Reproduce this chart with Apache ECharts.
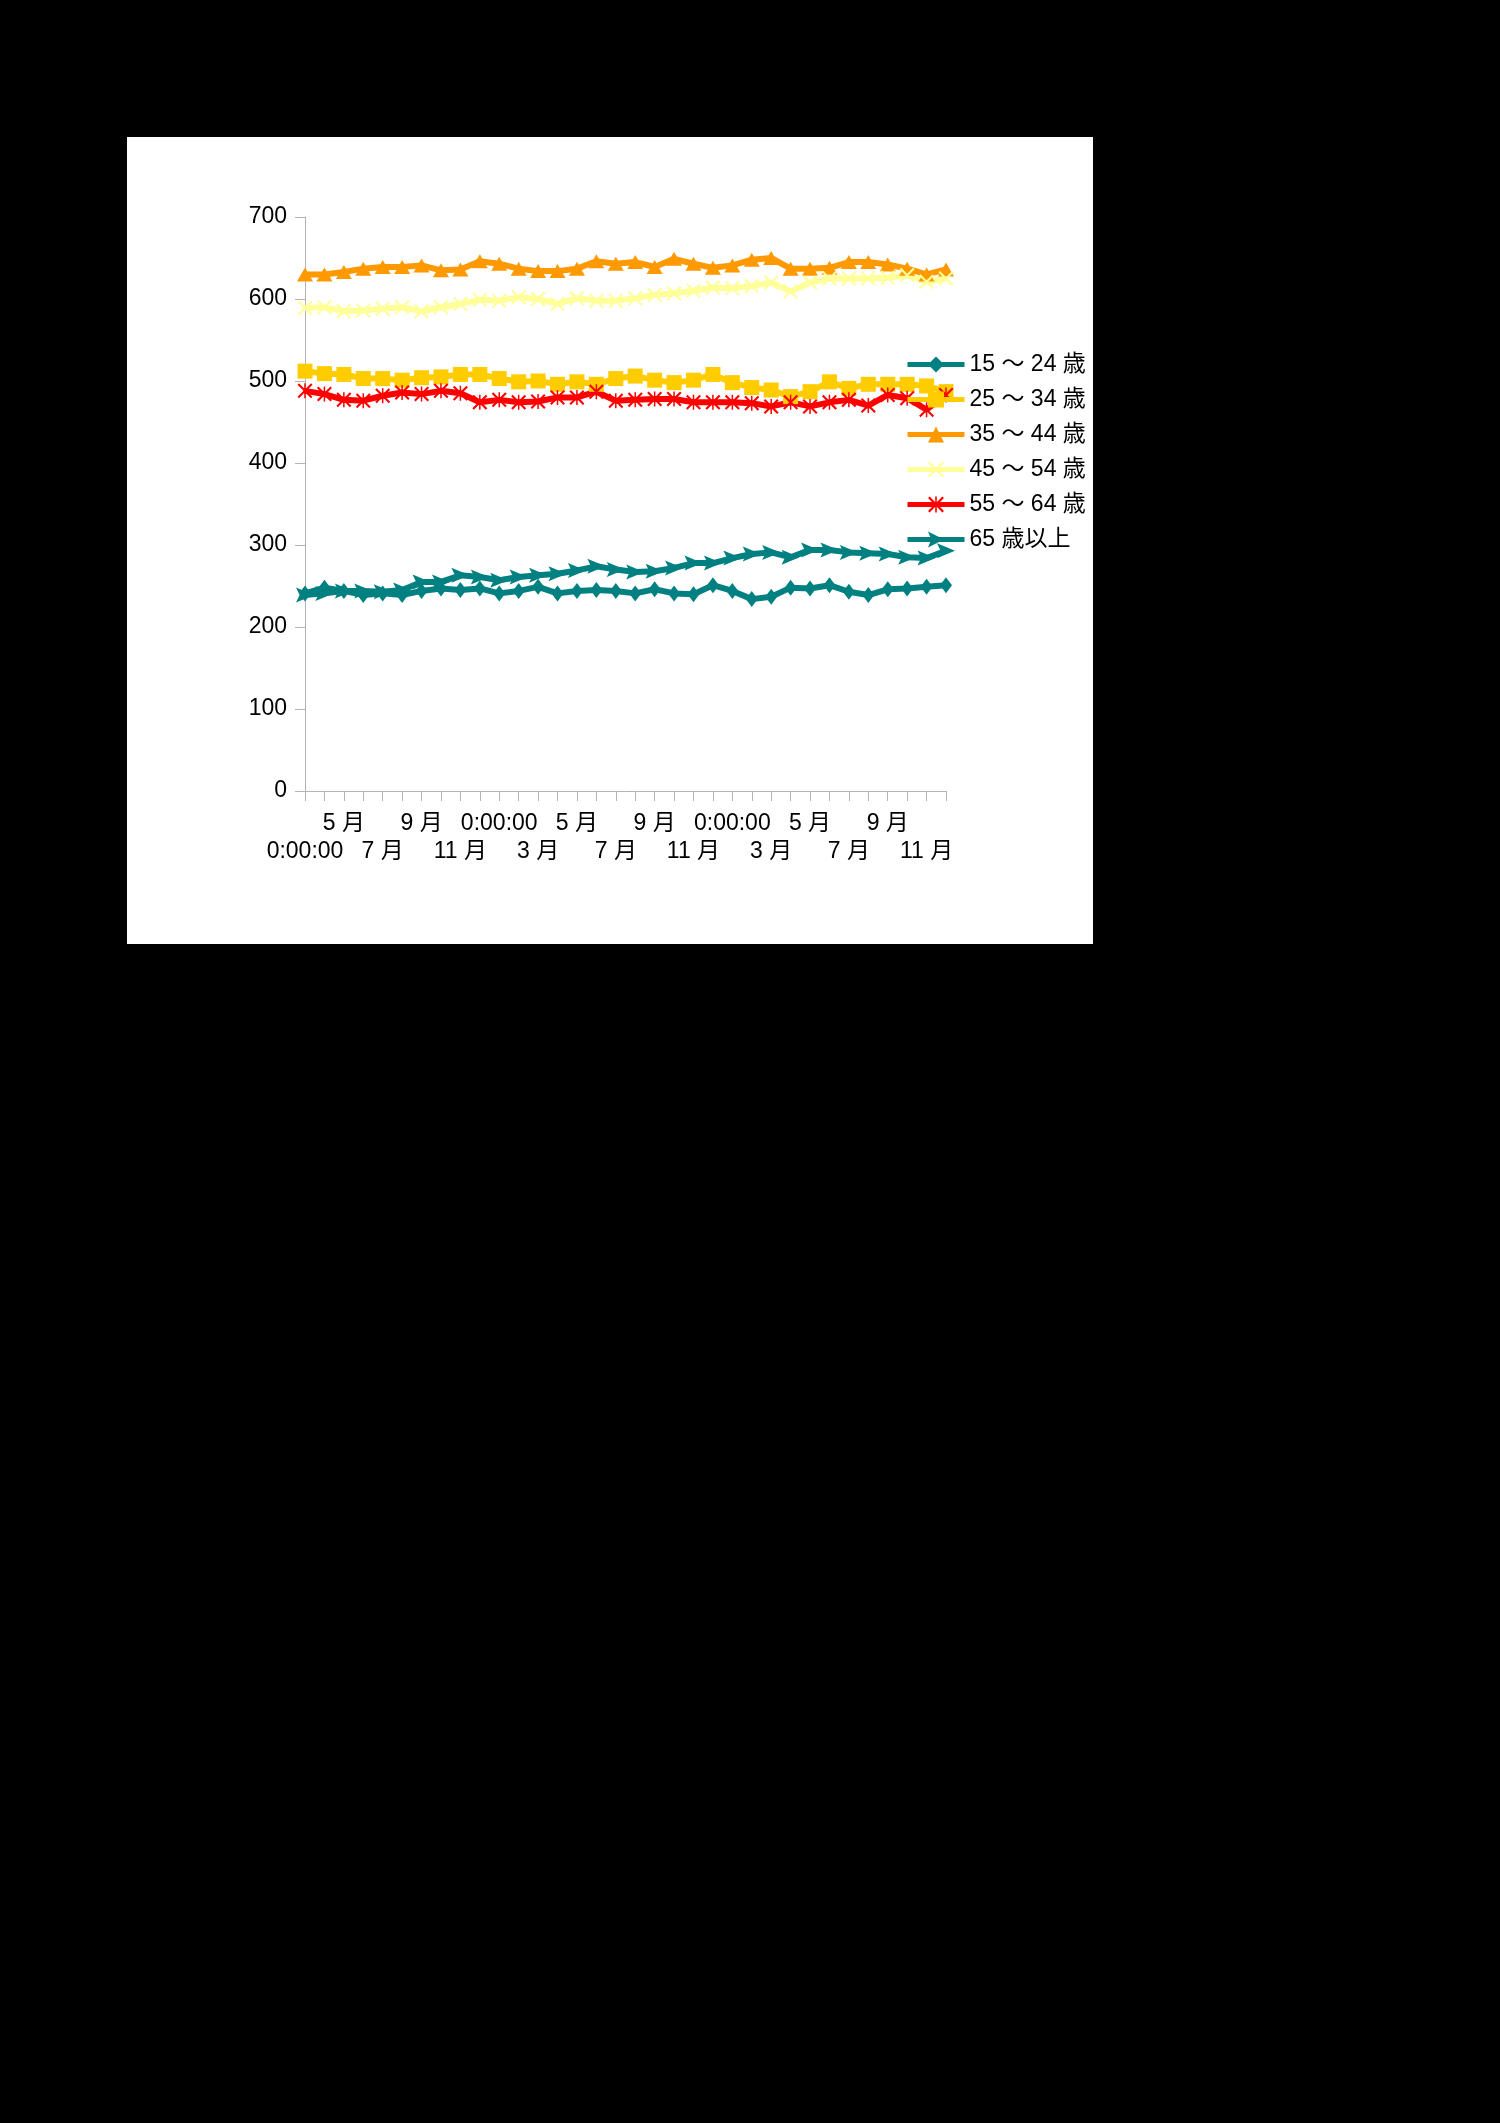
<!DOCTYPE html>
<html>
<head>
<meta charset="utf-8">
<script src="https://cdn.jsdelivr.net/npm/echarts@6/dist/echarts.min.js"></script>
<style>
    html, body { margin: 0; padding: 0; background: #000; width: 1500px; height: 2123px; }
    #chart { position: absolute; left: 127px; top: 137px; width: 966px; height: 807px; background: #fff; }
</style>
</head>
<body>
<div id="chart"></div>
<script>
// one entry per month; the first label and each January show as "0:00:00"
var categories = ['0:00:00','4 月','5 月','6 月','7 月','8 月','9 月','10 月','11 月','12 月',
    '0:00:00','2 月','3 月','4 月','5 月','6 月','7 月','8 月','9 月','10 月','11 月','12 月',
    '0:00:00','2 月','3 月','4 月','5 月','6 月','7 月','8 月','9 月','10 月','11 月','12 月'];
var seriesNames = ['15 ～ 24 歳','25 ～ 34 歳','35 ～ 44 歳','45 ～ 54 歳','55 ～ 64 歳','65 歳以上'];
var yTicks = [0, 100, 200, 300, 400, 500, 600, 700];

var age15_24 = [241,248,244,239,241,239,244,247,245,247,241,244,249,241,244,245,244,
    241,246,241,240,251,244,234,237,248,247,251,243,239,246,247,249,251];
var age25_34 = [512,509,508,503,503,501,504,505,508,508,503,499,500,496,499,496,503,
    506,501,498,501,508,498,492,489,481,487,499,491,496,496,496,494,487];
var age35_44 = [630,630,633,637,639,639,641,635,636,646,643,637,634,634,637,646,643,
    645,639,649,643,638,641,648,650,637,637,638,645,645,642,637,630,636];
var age45_54 = [589,590,585,586,588,590,585,590,594,599,598,602,600,594,601,598,598,
    601,605,607,610,614,613,616,620,609,620,625,625,625,626,629,621,625];
var age55_64 = [488,484,477,476,482,486,484,488,485,474,477,474,475,480,480,487,476,
    477,478,478,474,474,474,473,469,474,469,474,477,470,483,479,465,483];
var age65up = [239,241,244,244,243,245,255,255,263,261,257,261,263,265,269,274,270,
    267,268,272,278,278,284,289,291,285,294,294,291,290,289,285,284,293];

var crossPath = 'path://M2,0 L10,8 L18,0 L20,2 L12,10 L20,18 L18,20 L10,12 L2,20 L0,18 L8,10 L0,2 Z';
var starPath = 'path://M2,0 L10,8 L18,0 L20,2 L12,10 L20,18 L18,20 L10,12 L2,20 L0,18 L8,10 L0,2 Z M9,0 L11,0 L11,20 L9,20 Z';
var arrowPath = 'path://M0,0 L20,8 L0,16 L4,8 Z';

var font = '"Liberation Sans", Arial, "Noto Sans CJK JP", sans-serif';

// labels every second month, staggered over two rows
function upperRow(index) { return index % 4 === 2; }
function lowerRow(index) { return index % 4 === 0; }

function makeSeries(name, data, color, symbol, size) {
    return {
        name: name,
        type: 'line',
        data: data,
        symbol: symbol,
        symbolSize: size,
        showAllSymbol: true,
        itemStyle: { color: color },
        lineStyle: { color: color, width: 6 }
    };
}

function labelAxis(rowTest, margin) {
    return {
        type: 'category',
        position: 'bottom',
        boundaryGap: false,
        data: categories,
        axisLine: { show: false },
        axisTick: { show: false },
        axisLabel: {
            interval: function (index) { return rowTest(index); },
            margin: margin,
            fontSize: 23,
            lineHeight: 28,
            color: '#000',
            fontFamily: font
        }
    };
}

var myChart = echarts.init(document.getElementById('chart'));
var upper = labelAxis(upperRow, 19);
upper.axisLine = { show: true, lineStyle: { color: '#b3b3b3', width: 1 } };
var lower = labelAxis(lowerRow, 47);
// a third, label-free axis carries a tick at every month
var tickAxis = {
    type: 'category',
    position: 'bottom',
    boundaryGap: false,
    data: categories,
    axisLine: { show: false },
    axisLabel: { show: false },
    axisTick: { show: true, interval: 0, length: 10, lineStyle: { color: '#b3b3b3' } }
};

var option = {
    animation: false,
    textStyle: { fontFamily: font },
    grid: { left: 178, top: 80, width: 641, height: 574 },
    legend: {
        orient: 'vertical',
        left: 773,
        top: 211,
        itemWidth: 57,
        itemHeight: 20,
        itemGap: 12,
        lineStyle: { width: 5 },
        textStyle: { fontSize: 23, color: '#000', fontFamily: font },
        data: seriesNames
    },
    xAxis: [upper, lower, tickAxis],
    yAxis: {
        type: 'value',
        min: yTicks[0],
        max: yTicks[yTicks.length - 1],
        interval: 100,
        axisLine: { show: true, lineStyle: { color: '#b3b3b3', width: 1 } },
        axisTick: { show: true, length: 10, lineStyle: { color: '#b3b3b3' } },
        splitLine: { show: false },
        axisLabel: { margin: 18, fontSize: 23, color: '#000', fontFamily: font }
    },
    series: [
        makeSeries(seriesNames[0], age15_24, '#008080', 'diamond', [12, 16]),
        makeSeries(seriesNames[1], age25_34, '#ffcc00', 'rect', 15),
        makeSeries(seriesNames[2], age35_44, '#ff9900', 'triangle', [16, 14]),
        makeSeries(seriesNames[3], age45_54, '#ffff99', crossPath, 15),
        makeSeries(seriesNames[4], age55_64, '#ff0000', starPath, 15),
        makeSeries(seriesNames[5], age65up, '#008080', arrowPath, [18, 15])
    ]
};
myChart.setOption(option);
</script>
</body>
</html>
